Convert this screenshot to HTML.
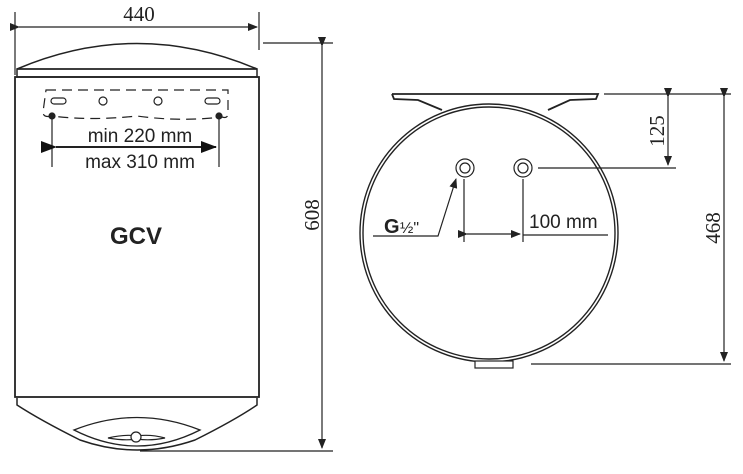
<!DOCTYPE html>
<html><head><style>body{margin:0;background:#fff}svg{display:block}</style></head><body>
<svg width="743" height="474" viewBox="0 0 743 474" xmlns="http://www.w3.org/2000/svg" font-family="Liberation Sans, sans-serif">
<defs>
<marker id="a" markerWidth="10" markerHeight="8" refX="9" refY="4" orient="auto" markerUnits="userSpaceOnUse"><path d="M0,0L10,4L0,8Z" fill="#222"/></marker>
<marker id="b" markerWidth="16" markerHeight="12" refX="15" refY="6" orient="auto" markerUnits="userSpaceOnUse"><path d="M0,0L16,6L0,12Z" fill="#111"/></marker>
</defs>
<g stroke="#222" fill="none" stroke-width="1.2">
<line x1="15" y1="12" x2="15" y2="75"/><line x1="259" y1="12" x2="259" y2="50"/>
<line x1="19" y1="27" x2="257" y2="27" marker-start="url(#a)" marker-end="url(#a)"/>
<path d="M17,69 Q137,18 257,69 Z" stroke-width="1.5"/>
<rect x="17" y="69" width="240" height="8" stroke-width="1.5"/>
<rect x="15" y="77" width="244" height="320" stroke-width="1.8"/>
<path d="M17,398 L17,405 Q40,420 80,440 Q137,460 195,440 Q235,420 257,405 L257,398" stroke-width="1.5"/>
<path d="M74,430 Q137,405 200,430 Q137,462 74,430 Z" stroke-width="1.3"/>
<path d="M108,438 Q125,434 137,436 Q150,434 165,438 Q150,441 137,439 Q125,441 108,438Z"/>
<circle cx="136" cy="437" r="5" fill="#fff"/>
<line x1="263" y1="43" x2="333" y2="43"/><line x1="140" y1="451" x2="333" y2="451"/>
<line x1="322" y1="46" x2="322" y2="448" marker-start="url(#a)" marker-end="url(#a)"/>
<path d="M46,90 L228,90 L228,113 Q228,119 222,117 Q180,122 137,116 Q90,121 52,116 Q43,118 43,112 Z" stroke-dasharray="10,6"/>
<rect x="51" y="98" width="15" height="6" rx="3"/><rect x="205" y="98" width="15" height="6" rx="3"/>
<circle cx="103" cy="101" r="4"/><circle cx="158" cy="101" r="4"/>
<circle cx="52" cy="116" r="3" fill="#222"/><circle cx="219" cy="116" r="3" fill="#222"/>
<line x1="52" y1="116" x2="52" y2="167"/><line x1="219" y1="116" x2="219" y2="167"/>
<line x1="56" y1="147" x2="216" y2="147" stroke-width="2" marker-start="url(#b)" marker-end="url(#b)"/>
<path d="M392,94 L598,94 L596,99 L570,100 L548,110 M392,94 L394,99 L418,100 L442,110" stroke-width="1.8"/>
<circle cx="489" cy="233" r="129" stroke-width="1.4"/>
<circle cx="489" cy="233" r="126" stroke-width="1.4"/>
<rect x="475" y="361" width="38" height="7" fill="#fff"/>
<circle cx="465" cy="168" r="9"/><circle cx="465" cy="168" r="5"/>
<circle cx="523" cy="168" r="9"/><circle cx="523" cy="168" r="5"/>
<line x1="538" y1="168" x2="676" y2="168"/>
<line x1="604" y1="94" x2="731" y2="94"/>
<line x1="668" y1="97" x2="668" y2="165" marker-start="url(#a)" marker-end="url(#a)"/>
<line x1="724" y1="97" x2="724" y2="361" marker-start="url(#a)" marker-end="url(#a)"/>
<line x1="531" y1="364" x2="731" y2="364"/>
<line x1="464" y1="179" x2="464" y2="242"/><line x1="523" y1="179" x2="523" y2="242"/>
<line x1="467" y1="234" x2="520" y2="234" marker-start="url(#a)" marker-end="url(#a)"/>
<line x1="523" y1="235" x2="608" y2="235"/>
<path d="M373,236 L438,236 L456,179" marker-end="url(#a)"/>
</g>
<g fill="#222">
<text x="139" y="21" font-family="Liberation Serif, serif" font-size="21" text-anchor="middle">440</text>
<text x="140" y="142" font-size="19" text-anchor="middle">min 220 mm</text>
<text x="140" y="168" font-size="19" text-anchor="middle">max 310 mm</text>
<text x="136" y="244" font-size="24" font-weight="bold" text-anchor="middle">GCV</text>
<text transform="translate(319,215) rotate(-90)" font-family="Liberation Serif, serif" font-size="21" text-anchor="middle">608</text>
<text transform="translate(664,131) rotate(-90)" font-family="Liberation Serif, serif" font-size="21" text-anchor="middle">125</text>
<text transform="translate(720,228) rotate(-90)" font-family="Liberation Serif, serif" font-size="21" text-anchor="middle">468</text>
<text x="529" y="228" font-size="19">100 mm</text>
<text x="384" y="233" font-size="20" font-weight="bold">G</text>
<text x="400" y="233" font-size="16">½"</text>
</g>
</svg>
</body></html>
